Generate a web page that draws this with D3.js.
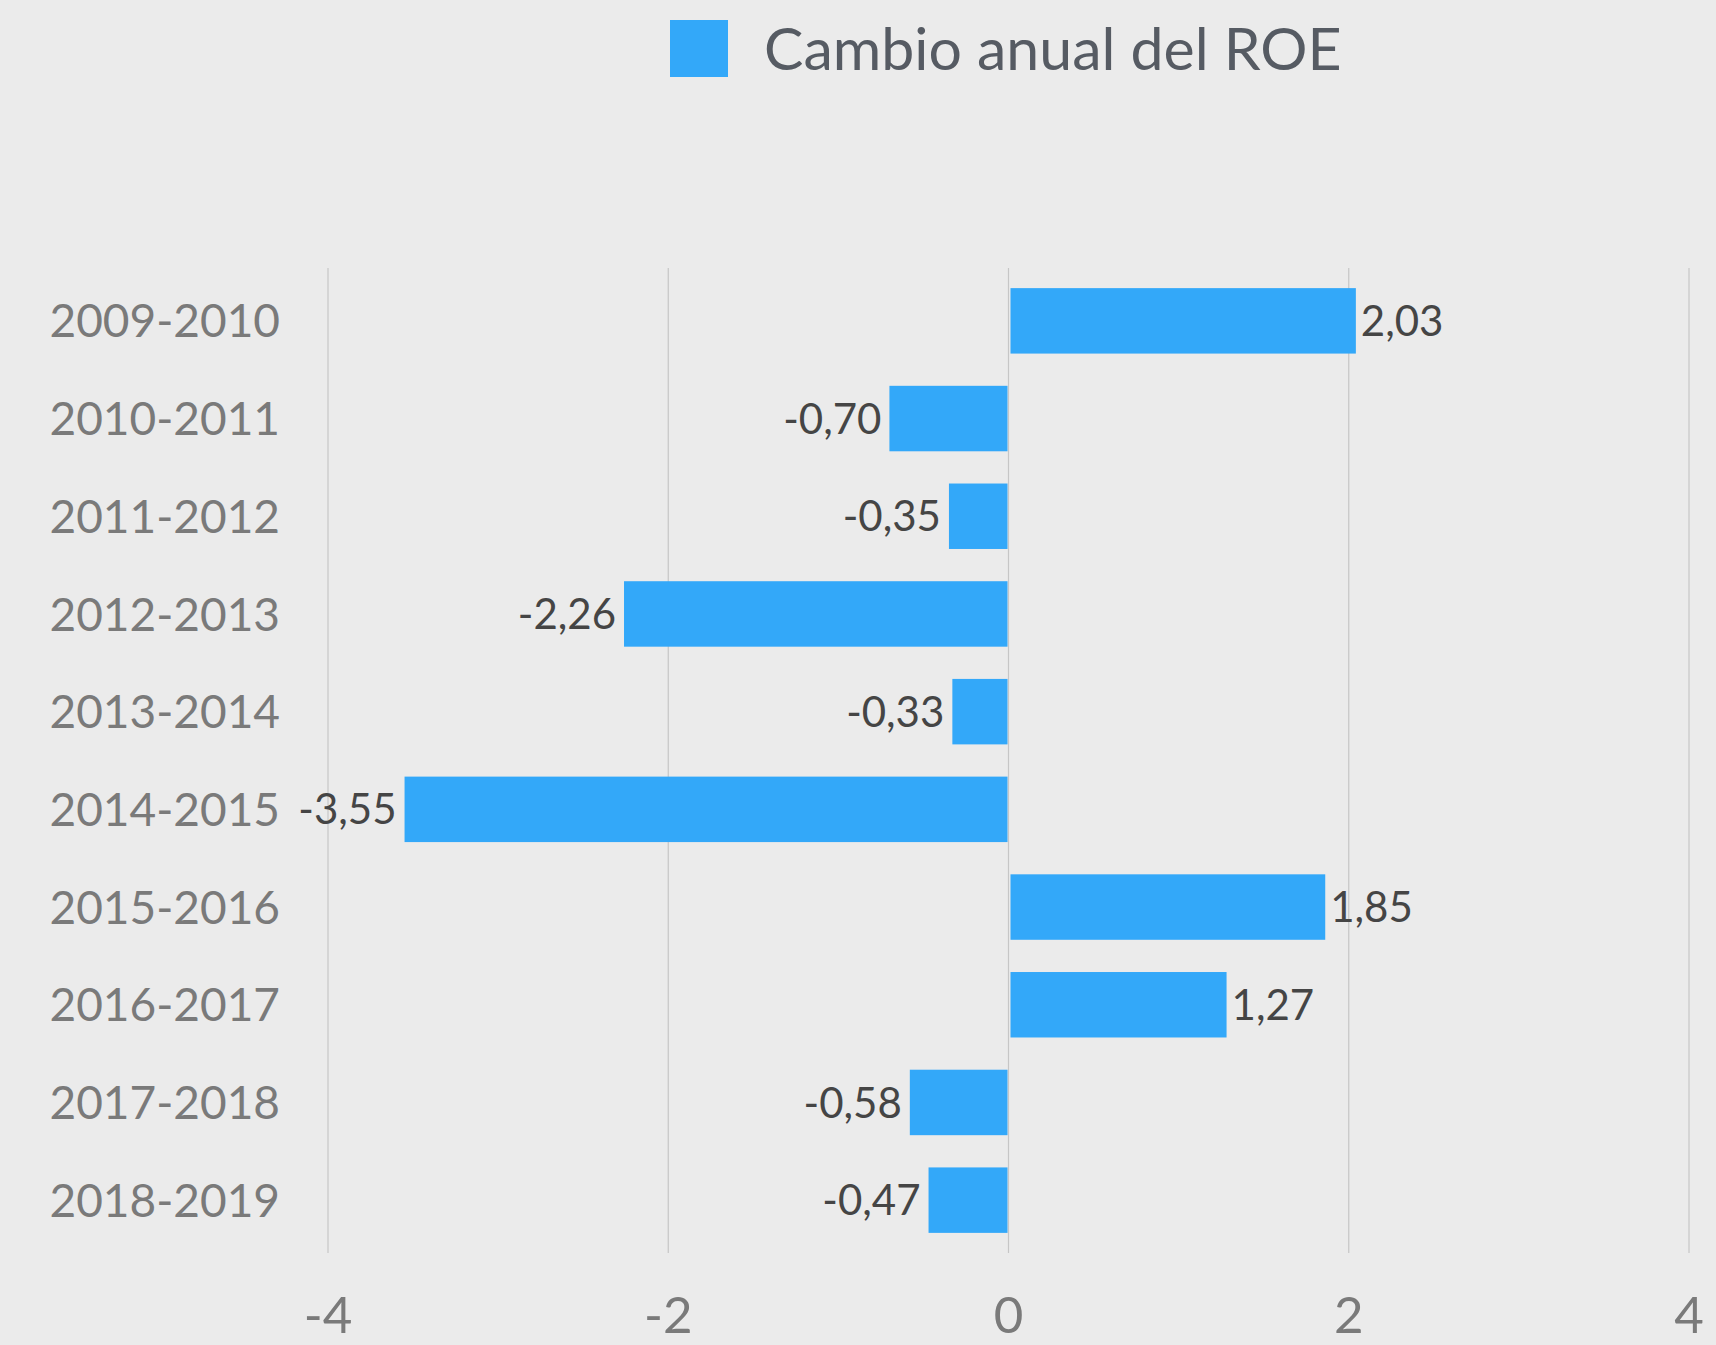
<!DOCTYPE html>
<html><head><meta charset="utf-8">
<script src="https://cdn.jsdelivr.net/npm/d3@7"></script>
<style>
html,body{margin:0;padding:0;background:#ebebeb;}
svg{display:block;}
text{font-family:Lato, "Noto Sans", sans-serif;}
</style></head>
<body>
<svg id="chart" width="1716" height="1345"></svg>
<script>
const categories = ["2009-2010","2010-2011","2011-2012","2012-2013","2013-2014","2014-2015","2015-2016","2016-2017","2017-2018","2018-2019"];
const values = [2.03,-0.70,-0.35,-2.26,-0.33,-3.55,1.85,1.27,-0.58,-0.47];
const xTicks = [-4,-2,0,2,4];
const seriesName = "Cambio anual del ROE";

const W = 1716, H = 1345;
const svg = d3.select("#chart");
svg.append("rect").attr("width",W).attr("height",H).attr("fill","#ebebeb");

const x = d3.scaleLinear().domain([-4,4]).range([328,1689]);
const y = d3.scaleBand().domain(categories).range([272,1249]).paddingInner(0.33).paddingOuter(0.165);
const gridTop = 268, gridBottom = 1253;
const fmt = v => d3.format(".2f")(v).replace(".", ",").replace("−","-");

// gridlines
svg.append("g").selectAll("line").data(xTicks).join("line")
  .attr("x1",d=>x(d)).attr("x2",d=>x(d))
  .attr("y1",gridTop).attr("y2",gridBottom)
  .attr("stroke","#c6c6c6").attr("stroke-width",1.2);

// x tick labels
svg.append("g").selectAll("text").data(xTicks).join("text")
  .attr("x",d=>x(d)).attr("y",1333)
  .attr("text-anchor","middle")
  .attr("font-size",51).attr("fill","#7a7a7a")
  .text(d=>String(d));

// bars
svg.append("g").selectAll("rect").data(values).join("rect")
  .attr("x",(d)=> d>=0 ? x(0)+2 : x(d))
  .attr("width",(d)=> Math.max(0, Math.abs(x(d)-x(0)) - (d>=0?0:1)))
  .attr("y",(d,i)=>y(categories[i]))
  .attr("height",y.bandwidth())
  .attr("fill","#33a8f9");

// value labels
svg.append("g").selectAll("text").data(values).join("text")
  .attr("x",d=> d>=0 ? x(d)+7 : x(d)-8)
  .attr("y",(d,i)=>y(categories[i])+y.bandwidth()/2)
  .attr("dy","0.36em")
  .attr("text-anchor",d=> d>=0 ? "start":"end")
  .attr("font-size",42).attr("fill","#454545")
  .text(d=>fmt(d));

// category labels
svg.append("g").selectAll("text").data(categories).join("text")
  .attr("x",280)
  .attr("y",d=>y(d)+y.bandwidth()/2)
  .attr("dy","0.36em")
  .attr("text-anchor","end")
  .attr("font-size",46).attr("fill","#7a7a7a")
  .text(d=>d);

// legend
const lg = svg.append("g");
lg.append("rect").attr("x",670).attr("y",20).attr("width",58).attr("height",57).attr("fill","#33a8f9");
lg.append("text").attr("x",764).attr("y",48.5).attr("dy","0.36em")
  .attr("font-size",59).attr("fill","#565b63").text(seriesName);
</script>
</body></html>
